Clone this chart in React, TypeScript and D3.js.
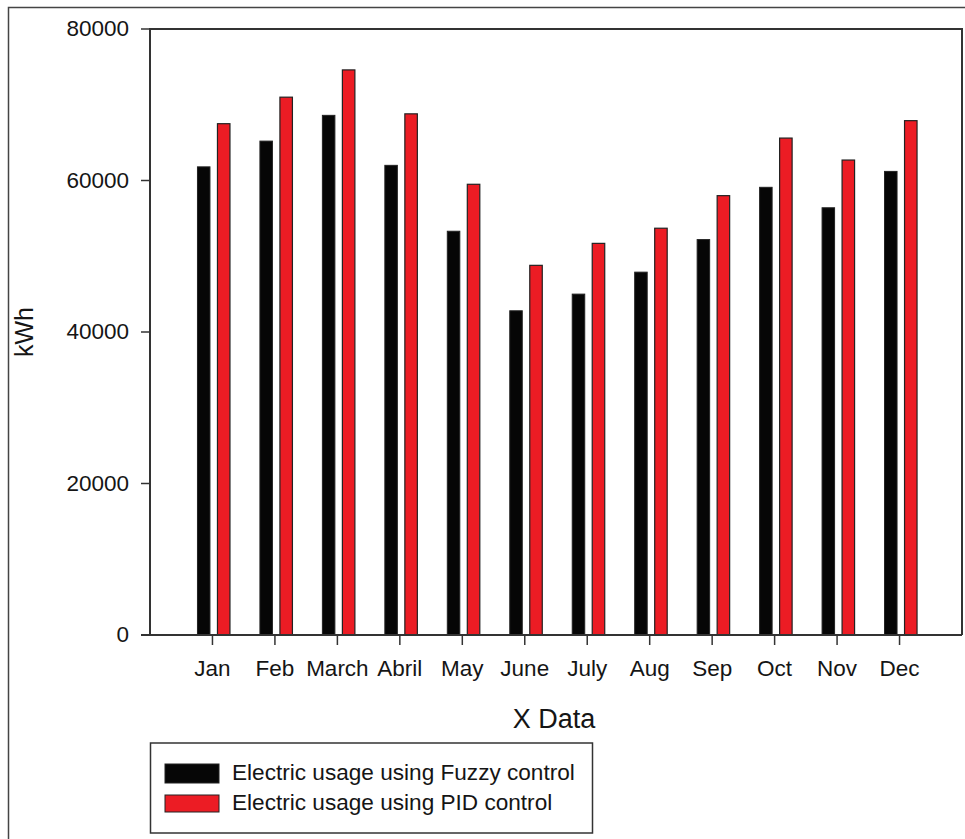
import React from "react";
import * as d3 from "d3";

// values
const months = ["Jan", "Feb", "March", "Abril", "May", "June", "July", "Aug", "Sep", "Oct", "Nov", "Dec"];
const fuzzy = [61800, 65200, 68600, 62000, 53300, 42800, 45000, 47900, 52200, 59100, 56400, 61200];
const pid = [67500, 71000, 74600, 68800, 59500, 48800, 51700, 53700, 58000, 65600, 62700, 67900];
const yTicks = [0, 20000, 40000, 60000, 80000];
const legendLabels = ["Electric usage using Fuzzy control", "Electric usage using PID control"];
const seriesColors = ["#060606", "#ec1c24"];

const W = 965;
const H = 839;
const plot = { left: 150, right: 962, top: 29, bottom: 635 };
const font = "'Liberation Sans', Arial, Helvetica, sans-serif";
const ink = "#151515";

export default function App() {
  const x = d3.scalePoint<string>().domain(months).range([plot.left, plot.right]).padding(1);
  const y = d3.scaleLinear().domain([0, 80000]).range([plot.bottom, plot.top]);
  const barW = 12.5;

  return (
    <svg width={W} height={H} style={{ position: "absolute", left: 0, top: 0, background: "#fff" }} fontFamily={font}>
      {/* outer frame */}
      <path d={`M8.5,${H} V7.5 H${W}`} fill="none" stroke="#444" strokeWidth={1.5} />

      {/* bars */}
      {months.map((m, i) => {
        const cx = x(m) as number;
        return (
          <g key={m}>
            <rect x={cx - 15} y={y(fuzzy[i])} width={barW} height={y(0) - y(fuzzy[i])}
              fill={seriesColors[0]} stroke="#222" strokeWidth={1} />
            <rect x={cx + 5} y={y(pid[i])} width={barW} height={y(0) - y(pid[i])}
              fill={seriesColors[1]} stroke="#222" strokeWidth={1.2} />
          </g>
        );
      })}

      {/* plot frame */}
      <path d={`M${plot.left},${plot.bottom} V${plot.top} H${plot.right} V${plot.bottom}`}
        fill="none" stroke="#333" strokeWidth={2} />
      <line x1={plot.left - 9} x2={plot.right} y1={plot.bottom} y2={plot.bottom} stroke="#333" strokeWidth={2} />

      {/* y axis */}
      {yTicks.map((t) => (
        <g key={t}>
          <line x1={plot.left - 9} x2={plot.left} y1={y(t)} y2={y(t)} stroke="#333" strokeWidth={1.5} />
          <text x={plot.left - 21} y={y(t)} dy="0.33em" textAnchor="end" fontSize={22.5} fill={ink}>{t}</text>
        </g>
      ))}

      {/* x axis */}
      {months.map((m) => (
        <g key={m}>
          <line x1={x(m)} x2={x(m)} y1={plot.bottom} y2={plot.bottom + 10} stroke="#333" strokeWidth={1.5} />
          <text x={x(m)} y={676} textAnchor="middle" fontSize={22.5} fill={ink}>{m}</text>
        </g>
      ))}

      {/* axis titles */}
      <text x={(plot.left + plot.right) / 2 - 2} y={728} textAnchor="middle" fontSize={27} fill={ink}>X Data</text>
      <text transform={`translate(33,${(plot.top + plot.bottom) / 2}) rotate(-90)`} textAnchor="middle" fontSize={25} fill={ink}>kWh</text>

      {/* legend */}
      <rect x={150.5} y={743} width={442} height={90} fill="#fff" stroke="#333" strokeWidth={1.5} />
      {legendLabels.map((l, i) => (
        <g key={l}>
          <rect x={165} y={i === 0 ? 764 : 795} width={54} height={i === 0 ? 19 : 17}
            fill={seriesColors[i]} stroke="#222" strokeWidth={1} />
          <text x={232} y={i === 0 ? 780 : 810} fontSize={22.6} fill={ink}>{l}</text>
        </g>
      ))}
    </svg>
  );
}
